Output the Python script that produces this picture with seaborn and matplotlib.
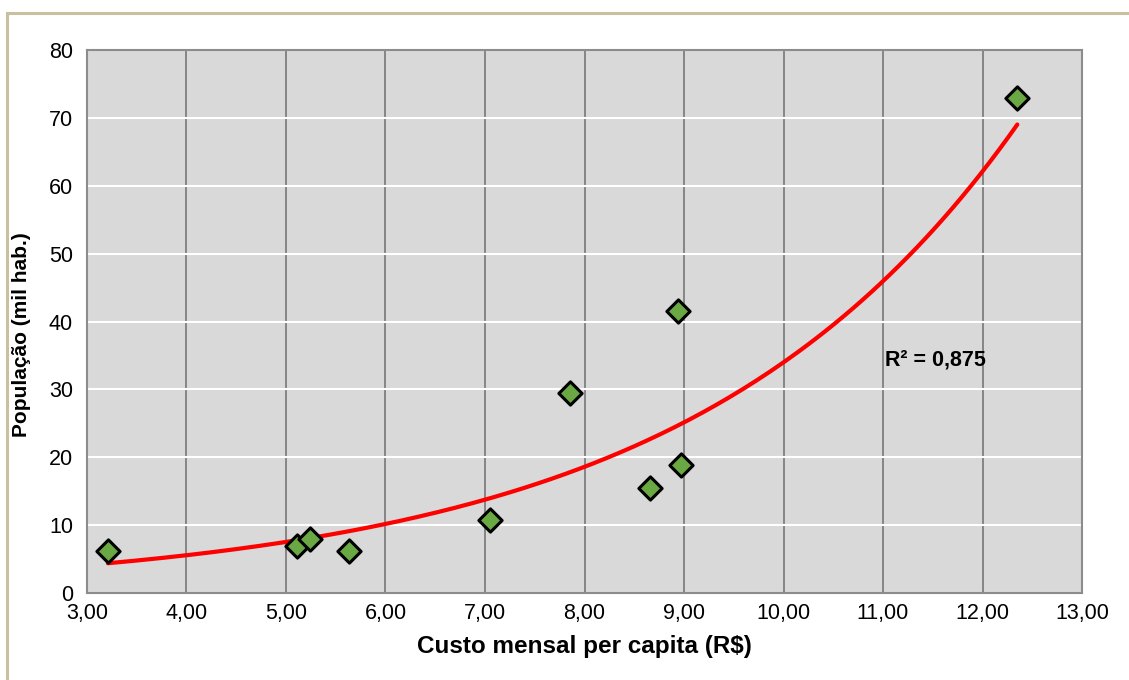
import numpy as np
import pandas as pd
import matplotlib
matplotlib.use("Agg")
import matplotlib.pyplot as plt
import seaborn as sns
from matplotlib.patches import Rectangle
from matplotlib.ticker import FuncFormatter

# Data
custo = [3.21, 5.11, 5.24, 5.63, 7.05, 7.85, 8.66, 8.94, 8.97, 12.35]
populacao = [6.2, 6.9, 8.0, 6.2, 10.8, 29.5, 15.5, 41.5, 18.9, 72.9]
x_ticks = [3, 4, 5, 6, 7, 8, 9, 10, 11, 12, 13]
y_ticks = [0, 10, 20, 30, 40, 50, 60, 70, 80]
r2_text = "R² = 0,875"
x_label = "Custo mensal per capita (R$)"
y_label = "População (mil hab.)"

df = pd.DataFrame({"custo": custo, "pop": populacao})

# Exponential trend line (least squares on log scale)
b, ln_a = np.polyfit(df["custo"], np.log(df["pop"]), 1)
xs = np.linspace(min(custo), max(custo), 200)
trend = pd.DataFrame({"x": xs, "y": np.exp(ln_a) * np.exp(b * xs)})

sns.set_theme(style="white")
plt.rcParams["font.family"] = ["Liberation Sans", "DejaVu Sans"]
plt.rcParams["text.color"] = "black"
plt.rcParams["axes.labelcolor"] = "black"

fig = plt.figure(figsize=(11.29, 6.8), dpi=100)
ax = fig.add_axes([87 / 1129, 1 - 593 / 680, (1082 - 87) / 1129, (593 - 50) / 680])

# outer frame (top & left visible)
fig.patches.append(Rectangle((7 / 1129, -0.1), 1.2, (1 - 13 / 680) + 0.1,
                             transform=fig.transFigure, fill=False,
                             edgecolor="#c9c0a0", linewidth=2.2, zorder=0))

ax.set_facecolor("#d9d9d9")
ax.set_xlim(3, 13)
ax.set_ylim(0, 80)
ax.set_xticks(x_ticks)
ax.set_yticks(y_ticks)

for xv in x_ticks[1:-1]:
    ax.axvline(xv, color="#7f7f7f", linewidth=1.3, zorder=1)
for yv in y_ticks[1:-1]:
    ax.axhline(yv, color="white", linewidth=1.5, zorder=1)

sns.lineplot(data=trend, x="x", y="y", ax=ax, color="#ff0000", linewidth=3.0, zorder=3)
sns.scatterplot(data=df, x="custo", y="pop", ax=ax, marker="D", s=140,
                color="#6aa844", edgecolor="black", linewidth=2.2, zorder=4)

ax.text(11.02, 34.3, r2_text, fontsize=15.5, fontweight="bold", va="center", ha="left",
        color="black", zorder=5)

ax.xaxis.set_major_formatter(FuncFormatter(lambda v, p: f"{v:.2f}".replace(".", ",")))
ax.tick_params(axis="both", length=0, labelsize=15.5, colors="black")
ax.tick_params(axis="x", pad=7)
ax.tick_params(axis="y", pad=10)

for s in ax.spines.values():
    s.set_color("#8c8c8c")
    s.set_linewidth(1.5)

ax.set_xlabel(x_label, fontsize=17.5, fontweight="bold", labelpad=8, color="black")
ax.set_ylabel(y_label, fontsize=15, fontweight="bold", color="black")
ax.yaxis.set_label_coords(-0.056, 0.476)

fig.savefig("out.png", dpi=100, facecolor="white")
